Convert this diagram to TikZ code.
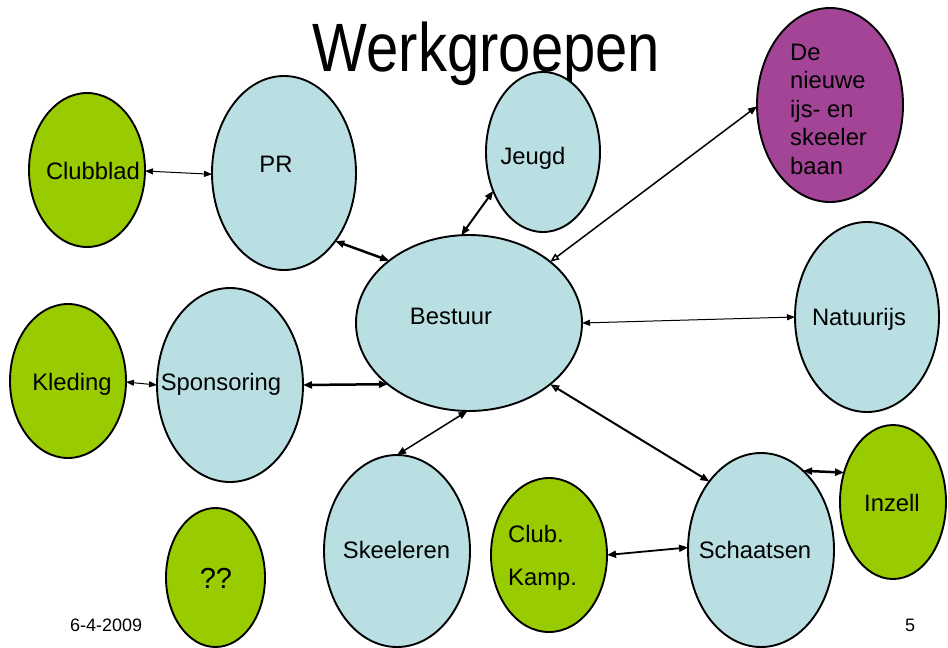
\documentclass[tikz,border=0pt]{standalone}
\usepackage{fontspec}
\setmainfont{Liberation Sans}
\usetikzlibrary{shapes.geometric,arrows.meta}
\definecolor{lb}{HTML}{B9DFE3}
\definecolor{gr}{HTML}{99CC00}
\definecolor{pu}{HTML}{A44496}
\begin{document}
\begin{tikzpicture}[x=1pt,y=-1pt,
  ell/.style={ellipse, draw=black, line width=1.9pt, inner sep=0pt, outer sep=0pt},
  lbl/.style={font=\fontsize{23.8}{28.5}\selectfont, inner sep=0pt, anchor=base},
  small/.style={font=\fontsize{18}{21}\selectfont, inner sep=0pt, anchor=base},
  con/.style={{Triangle[length=8pt,width=6pt]}-{Triangle[length=8pt,width=6pt]}},
  conbig/.style={{Triangle[length=9pt,width=7pt]}-{Triangle[length=9pt,width=7pt]}},
  conoa/.style={{Triangle[open,length=9pt,width=7pt,fill=white]}-{Triangle[length=9pt,width=7pt]}},
  conob/.style={{Triangle[length=9pt,width=7pt]}-{Triangle[open,length=9pt,width=7pt,fill=white]}},
  conoo/.style={{Triangle[open,length=9pt,width=7pt,fill=white]}-{Triangle[open,length=9pt,width=7pt,fill=white]}}
]
\fill[white] (0,0) rectangle (948,648);
\useasboundingbox (0,0) rectangle (948,648);

% title
\node[inner sep=0pt, anchor=base] (title) at (486.5,71)
  {\scalebox{1}[1.18]{\fontsize{58}{70}\selectfont Werkgroepen}};

% ellipses
\node[ell, fill=gr, minimum width=116pt, minimum height=154pt] (Clubblad) at (87,170) {};
\node[ell, fill=lb, minimum width=144pt, minimum height=194pt] (PR) at (284,173) {};
\node[ell, fill=lb, minimum width=114pt, minimum height=160pt] (Jeugd) at (543,152) {};
\node[ell, fill=pu, minimum width=146pt, minimum height=194pt] (Baan) at (830,105) {};
\node[ell, fill=lb, minimum width=226pt, minimum height=176pt] (Bestuur) at (469,323) {};
\node[ell, fill=lb, minimum width=144pt, minimum height=190pt] (Natuurijs) at (867,317) {};
\node[ell, fill=gr, minimum width=116pt, minimum height=154pt] (Kleding) at (68,381) {};
\node[ell, fill=lb, minimum width=146pt, minimum height=194pt] (Sponsoring) at (230,385) {};
\node[ell, fill=lb, minimum width=146pt, minimum height=192pt] (Skeeleren) at (397,551) {};
\node[ell, fill=gr, minimum width=99pt, minimum height=139pt] (QQ) at (215.5,577.5) {};
\node[ell, fill=gr, minimum width=116pt, minimum height=154pt] (ClubKamp) at (549,555) {};
\node[ell, fill=lb, minimum width=146pt, minimum height=194pt] (Schaatsen) at (761,550) {};
\node[ell, fill=gr, minimum width=106pt, minimum height=154pt] (Inzell) at (893,502) {};

% labels
\node[lbl] (tClubblad) at (93,179) {Clubblad};
\node[lbl] (tPR) at (276,172) {PR};
\node[lbl] (tJeugd) at (533,164) {Jeugd};
\node[inner sep=0pt, anchor=base west, font=\fontsize{23.8}{28.5}\selectfont] (tBaan) at (790,60)
  {\begin{tabular}[t]{@{}l@{}}De\\nieuwe\\ijs- en\\skeeler\\baan\end{tabular}};
\node[lbl] (tBestuur) at (451,324) {Bestuur};
\node[lbl] (tNatuurijs) at (859,325) {Natuurijs};
\node[lbl] (tKleding) at (72,390) {Kleding};
\node[lbl] (tSponsoring) at (221,390) {Sponsoring};
\node[lbl] (tSkeeleren) at (396.5,558) {Skeeleren};
\node[lbl, font=\fontsize{29}{34}\selectfont] (tQQ) at (216,588) {??};
\node[inner sep=0pt, anchor=base west, font=\fontsize{23.8}{43}\selectfont] (tClubKamp) at (508,542)
  {\begin{tabular}[t]{@{}l@{}}Club.\\Kamp.\end{tabular}};
\node[lbl] (tSchaatsen) at (755,558) {Schaatsen};
\node[lbl] (tInzell) at (892,511) {Inzell};

% footer
\node[small, anchor=base west] (date) at (70,631) {6-4-2009};
\node[small] (page) at (910,631) {5};

% connectors
\draw[con, line width=1pt] (Clubblad.-1) -- (PR.181);
\draw[conoa, line width=2.5pt] (PR.-53.5) -- (Bestuur.142.6);
\draw[conbig, line width=2pt] (Jeugd.218.8) -- (Bestuur.95.8);
\draw[conob, line width=1.5pt] (Baan.181.6) -- (Bestuur.37.2);
\draw[con, line width=1pt] (Bestuur.0) -- (Natuurijs.180.8);
\draw[con, line width=1pt] (Kleding.-1) -- (Sponsoring.180.8);
\draw[conbig, line width=2.5pt] (Sponsoring.0) -- (Bestuur.217);
\draw[conbig, line width=1.5pt] (Bestuur.269.4) -- (Skeeleren.90);
\draw[conoa, line width=2pt] (Bestuur.-37.3) -- (Schaatsen.127.3);
\draw[conbig, line width=1.8pt] (ClubKamp.0) -- (Schaatsen.178.4);
\draw[conoo, line width=2.5pt] (Schaatsen.62) -- (Inzell.149.2);
\end{tikzpicture}
\end{document}
